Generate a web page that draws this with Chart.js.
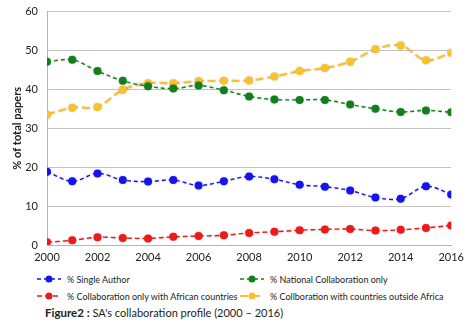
<!DOCTYPE html>
<html>
<head>
<meta charset="utf-8">
<script src="https://cdn.jsdelivr.net/npm/chart.js@4"></script>
<style>
  html, body { margin: 0; padding: 0; background: #fff; }
  body { width: 470px; height: 330px; overflow: hidden; font-family: Lato, "Open Sans", sans-serif; color: #222; position: relative; }
  #wrap { position: absolute; left: 0; top: -4px; width: 470px; height: 270px; }
  #legend { position: absolute; left: 0; top: 273px; width: 470px; font-size: 9px; }
  .item { position: absolute; display: flex; align-items: center; white-space: nowrap; height: 12px; }
  .item svg { margin-right: 6px; }
  #caption { position: absolute; left: 45px; top: 306px; font-size: 11px; white-space: nowrap; }
  #caption b { font-size: 11.5px; }
</style>
</head>
<body>
<div id="wrap"><canvas id="c" width="470" height="270"></canvas></div>
<div id="legend"></div>
<div id="caption"><b>Figure2 :</b> SA's collaboration profile (2000 – 2016)</div>
<script>
const years = [2000, 2001, 2002, 2003, 2004, 2005, 2006, 2007, 2008, 2009, 2010, 2011, 2012, 2013, 2014, 2015, 2016];
const singleAuthor = [18.8, 16.4, 18.4, 16.7, 16.3, 16.7, 15.3, 16.4, 17.6, 16.9, 15.5, 15.0, 14.0, 12.2, 11.9, 15.1, 13.0];
const nationalOnly = [47.1, 47.6, 44.7, 42.2, 40.8, 40.2, 41.0, 39.8, 38.2, 37.4, 37.3, 37.3, 36.1, 35.0, 34.2, 34.6, 34.1];
const africanOnly = [0.7, 1.2, 2.0, 1.8, 1.7, 2.1, 2.3, 2.5, 3.1, 3.4, 3.8, 4.0, 4.1, 3.7, 3.9, 4.4, 5.0];
const outsideAfrica = [33.5, 35.3, 35.5, 39.9, 41.6, 41.6, 42.1, 42.2, 42.3, 43.3, 44.7, 45.5, 47.1, 50.3, 51.3, 47.5, 49.4];
const yTicks = [0, 10, 20, 30, 40, 50, 60];

const series = [
  { label: '% Single Author', data: singleAuthor, color: '#1414f0', dash: [4, 3], width: 1.4, col: 0, row: 0 },
  { label: '% National Collaboration only', data: nationalOnly, color: '#12801a', dash: [4, 3], width: 1.4, col: 1, row: 0 },
  { label: '% Collaboration only with African countries', data: africanOnly, color: '#f01818', dash: [5, 3], width: 1.4, col: 0, row: 1 },
  { label: '% Collboration with countries outside Africa', data: outsideAfrica, color: '#f9c12a', dash: [8, 4], width: 2, col: 1, row: 1 }
];

const datasets = series.map(s => ({
  label: s.label,
  data: years.map((y, i) => ({ x: y, y: s.data[i] })),
  borderColor: s.color,
  backgroundColor: s.color,
  borderDash: s.dash,
  borderWidth: s.width,
  pointRadius: 4,
  pointBorderWidth: 0,
  pointHoverRadius: 4,
  tension: 0.35,
  fill: false
}));

// soft halo around the markers
const halo = {
  id: 'halo',
  beforeDatasetsDraw(chart) { chart.ctx.save(); chart.ctx.shadowColor = 'rgba(0,0,0,0.25)'; chart.ctx.shadowBlur = 2; },
  afterDatasetsDraw(chart) { chart.ctx.restore(); }
};

new Chart(document.getElementById('c'), {
  type: 'line',
  data: { datasets },
  plugins: [halo],
  options: {
    responsive: false,
    animation: false,
    events: [],
    layout: { padding: { top: 0, right: 17, left: 0, bottom: 0 } },
    plugins: { legend: { display: false }, tooltip: { enabled: false } },
    scales: {
      x: {
        type: 'linear', min: 2000, max: 2016,
        grid: { display: false, drawTicks: false },
        border: { display: true, color: '#b5b5b5', width: 1 },
        ticks: {
          stepSize: 2, padding: 6, color: '#222',
          font: { family: 'Lato', size: 11 },
          callback: v => String(v)
        },
        afterFit: s => { s.height = 21; }
      },
      y: {
        min: 0, max: 60,
        afterBuildTicks: s => { s.ticks = yTicks.map(v => ({ value: v })); },
        grid: { color: '#c4c4c4', lineWidth: 1, drawTicks: false },
        border: { display: true, color: '#b5b5b5', width: 1 },
        ticks: { padding: 9, color: '#222', font: { family: 'Lato', size: 11 } },
        title: { display: true, text: '% of total papers', color: '#222', font: { family: 'Lato', size: 11, weight: 'bold' }, padding: { top: 11, bottom: 0 } },
        afterFit: s => { s.width = 47; }
      }
    }
  }
});

// two-column legend under the plot
const legend = document.getElementById('legend');
const colX = [37, 240];
const rowY = [0, 17];
series.forEach(s => {
  const item = document.createElement('div');
  item.className = 'item';
  item.style.left = colX[s.col] + 'px';
  item.style.top = rowY[s.row] + 'px';
  const svg = `<svg width="24" height="10"><line x1="0" y1="5" x2="24" y2="5" stroke="${s.color}" stroke-width="${s.width}" stroke-dasharray="${s.dash.join(',')}"/><circle cx="12" cy="5" r="3.5" fill="${s.color}"/></svg>`;
  item.innerHTML = svg + '<span>' + s.label + '</span>';
  legend.appendChild(item);
});
</script>
</body>
</html>
